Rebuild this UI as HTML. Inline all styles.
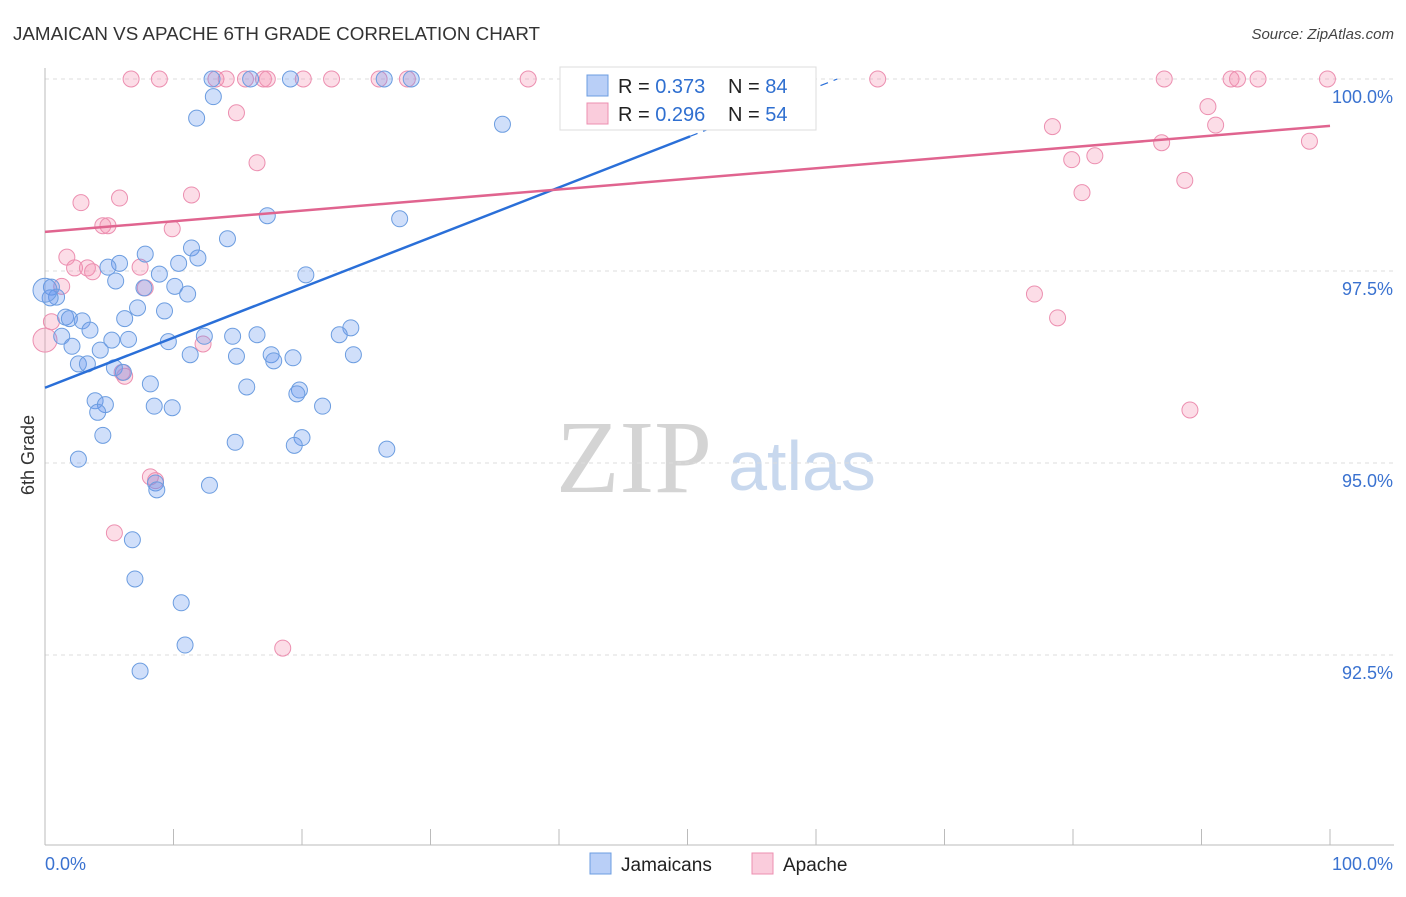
<!DOCTYPE html>
<html><head><meta charset="utf-8">
<style>
body{margin:0;background:#fff;font-family:"Liberation Sans",sans-serif;}
</style></head>
<body>
<svg id="chart" width="1406" height="892" xmlns="http://www.w3.org/2000/svg">
<text x="13" y="40" font-size="18.8" fill="#333">JAMAICAN VS APACHE 6TH GRADE CORRELATION CHART</text>
<text x="1394" y="39" font-size="15" fill="#444" text-anchor="end" font-style="italic">Source: ZipAtlas.com</text>
<g>
<text x="634" y="492" font-size="104" font-family="Liberation Serif,serif" fill="#d4d4d4" text-anchor="middle">ZIP</text>
<text x="802" y="490" font-size="70" fill="#c8d8ee" text-anchor="middle">atlas</text>
</g>
<g id="grid"></g>
<g id="axes"></g>
<g id="marks"></g>
<g id="lines"></g>
<text transform="translate(34,455) rotate(-90)" font-size="18" fill="#333" text-anchor="middle">6th Grade</text>
<g>
<rect x="560" y="67" width="256" height="63" fill="#fff" stroke="#ddd"/>
<rect x="587" y="75" width="21" height="21" fill="rgba(100,149,237,0.45)" stroke="#6c9de0"/>
<rect x="587" y="103" width="21" height="21" fill="rgba(244,143,177,0.45)" stroke="#ec8fb0"/>
<text x="618" y="93" font-size="20" fill="#222">R = <tspan fill="#2f6fd0">0.373</tspan></text>
<text x="728" y="93" font-size="20" fill="#222">N = <tspan fill="#2f6fd0">84</tspan></text>
<text x="618" y="121" font-size="20" fill="#222">R = <tspan fill="#2f6fd0">0.296</tspan></text>
<text x="728" y="121" font-size="20" fill="#222">N = <tspan fill="#2f6fd0">54</tspan></text>
</g>
<g>
<rect x="590" y="853" width="21" height="21" fill="rgba(100,149,237,0.45)" stroke="#6c9de0"/>
<text x="621" y="871" font-size="19" fill="#222">Jamaicans</text>
<rect x="752" y="853" width="21" height="21" fill="rgba(244,143,177,0.45)" stroke="#ec8fb0"/>
<text x="783" y="871" font-size="19" fill="#222">Apache</text>
</g>
</svg>
<script>
const yTicks=[100,97.5,95,92.5];
const yTickLabels=["100.0%","97.5%","95.0%","92.5%"];
const xTickLabels=["0.0%","100.0%"];
const blueX=[13.0,16.0,19.1,26.4,28.5,42.9,45.4,13.1,11.8,35.6,17.3,27.6,14.2,11.4,7.8,11.9,5.8,10.4,4.9,8.9,20.3,5.5,0.5,7.7,10.1,0.9,11.1,0.4,7.2,9.3,1.6,1.9,2.9,6.2,3.5,23.8,12.4,14.6,16.5,22.9,1.3,5.2,6.5,9.6,2.1,4.3,11.3,14.9,17.6,19.3,24.0,17.8,2.6,3.3,5.4,6.1,8.2,15.7,19.8,19.6,3.9,4.7,8.5,9.9,21.6,4.1,4.5,14.8,20.0,19.4,26.6,2.6,8.6,8.7,12.8,6.8,7.0,10.6,10.9,7.4,0];
const blueY=[100,100,100,100,100,100,100,99.77,99.49,99.41,98.22,98.18,97.92,97.80,97.72,97.67,97.60,97.60,97.55,97.46,97.45,97.37,97.29,97.28,97.30,97.16,97.20,97.15,97.02,96.98,96.90,96.88,96.85,96.88,96.73,96.76,96.65,96.65,96.67,96.67,96.65,96.60,96.61,96.58,96.52,96.47,96.41,96.39,96.41,96.37,96.41,96.33,96.29,96.29,96.24,96.18,96.03,95.99,95.95,95.90,95.81,95.76,95.74,95.72,95.74,95.66,95.36,95.27,95.33,95.23,95.18,95.05,94.74,94.65,94.71,94.00,93.49,93.18,92.63,92.29,97.25];
const pinkX=[6.7,8.9,13.3,14.1,15.6,17.0,17.3,20.1,22.3,26.0,28.2,37.6,64.8,87.1,92.3,92.8,94.4,99.8,14.9,90.5,78.4,91.1,16.5,79.9,81.7,86.9,98.4,2.8,5.8,11.4,88.7,80.7,4.5,4.9,9.9,1.7,2.3,3.3,3.7,7.4,7.8,1.3,77.0,78.8,0.5,12.3,6.2,6.0,89.1,8.2,8.6,5.4,18.5,0];
const pinkY=[100,100,100,100,100,100,100,100,100,100,100,100,100,100,100,100,100,100,99.56,99.64,99.38,99.40,98.91,98.95,99.00,99.17,99.19,98.39,98.45,98.49,98.68,98.52,98.09,98.09,98.05,97.68,97.54,97.54,97.49,97.55,97.28,97.30,97.20,96.89,96.84,96.55,96.13,96.18,95.69,94.82,94.77,94.09,92.59,96.6];
const blueTrend=[95.98,102.5];
const pinkTrend=[98.01,99.39];
const NS="http://www.w3.org/2000/svg";
const X=v=>45+v*12.85;
const Y=v=>79+(100-v)*76.8;
function mk(p,t,a){const e=document.createElementNS(NS,t);for(const k in a)e.setAttribute(k,a[k]);p.appendChild(e);return e;}
const grid=document.getElementById('grid'),axes=document.getElementById('axes'),marks=document.getElementById('marks'),lines=document.getElementById('lines');
yTicks.forEach((t,i)=>{
 const l=mk(grid,'line',{x1:45,x2:1394,y1:Y(t),y2:Y(t),stroke:'#ddd','stroke-dasharray':'4,4'});
 
 
 const tx=mk(axes,'text',{x:1393,y:Y(t)+24,'font-size':18,fill:'#3a72d0','text-anchor':'end'});
 tx.textContent=yTickLabels[i];
 
 
});
const xa=mk(axes,'line',{x1:45,x2:1394,y1:845,y2:845,stroke:'#bbb'});


const ya=mk(axes,'line',{x1:45,x2:45,y1:68,y2:845,stroke:'#bbb'});


for(let i=0;i<=10;i++){
 const t=mk(axes,'line',{x1:X(i*10),x2:X(i*10),y1:829,y2:845,stroke:'#bbb'});
 
 
}
[[0,'start'],[100,'end']].forEach((d,i)=>{
 const tx=mk(axes,'text',{x:i?1393:45,y:870,'font-size':18,fill:'#3a72d0','text-anchor':d[1]});
 tx.textContent=xTickLabels[i];
 
 
});
function dots(xs,ys,fill,stroke,name){
 xs.forEach((x,i)=>{
  const r=(x===0)?12:8;
  const c=mk(marks,'circle',{cx:X(x),cy:Y(ys[i]),r:r,fill:fill,stroke:stroke,'stroke-width':1});
  
  
 });
}
dots(pinkX,pinkY,'rgba(244,143,177,0.3)','#ec8fb0','apache-point');
dots(blueX,blueY,'rgba(100,149,237,0.3)','#6c9de0','jamaican-point');
function ly(tr,x){return tr[0]+(tr[1]-tr[0])*x/100;}
const bSolidEnd=50.2;
const b1=mk(lines,'line',{x1:X(0),y1:Y(ly(blueTrend,0)),x2:X(bSolidEnd),y2:Y(ly(blueTrend,bSolidEnd)),stroke:'#2a6fd8','stroke-width':2.5});


const bEnd=(100-blueTrend[0])/(blueTrend[1]-blueTrend[0])*100;
const b2=mk(lines,'line',{x1:X(bSolidEnd),y1:Y(ly(blueTrend,bSolidEnd)),x2:X(bEnd),y2:Y(100),stroke:'#2a6fd8','stroke-width':1.2,'stroke-dasharray':'8,6'});


const p1=mk(lines,'line',{x1:X(0),y1:Y(pinkTrend[0]),x2:X(100),y2:Y(pinkTrend[1]),stroke:'#e0648f','stroke-width':2.5});


</script>
</body></html>
